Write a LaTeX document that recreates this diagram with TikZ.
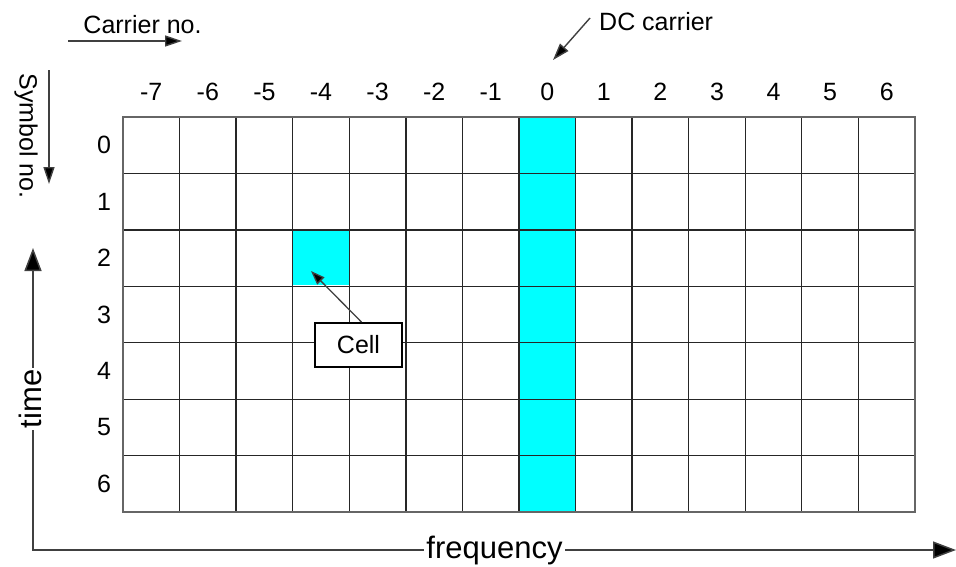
\documentclass[tikz,border=0pt]{standalone}
\usepackage{fontspec}
\setmainfont{Liberation Sans}
\usetikzlibrary{arrows.meta}
\definecolor{aqua}{RGB}{0,255,255}
\begin{document}
\begin{tikzpicture}[x=1pt,y=-1pt,
  lbl/.style={font=\fontsize{25}{30}\selectfont, inner sep=0pt},
  axislbl/.style={font=\fontsize{31}{36}\selectfont, fill=white, inner xsep=2pt, inner ysep=0pt},
  gridline/.style={draw=black!85, line width=1.3pt},
  border/.style={draw=black!60, line width=1.8pt},
  smallarr/.style={draw=black!75, line width=1.4pt, -{Triangle[length=17pt,width=11pt,fill=black]}},
  axisarr/.style={draw=black!75, line width=1.5pt, {Triangle[length=23pt,width=17pt,fill=black]}-{Triangle[length=23pt,width=17pt,fill=black]}},
  cellbox/.style={draw=black, line width=1.8pt, fill=white, minimum width=87pt, minimum height=44pt, inner sep=0pt, font=\fontsize{25}{30}\selectfont}
]
\useasboundingbox (0,0) rectangle (956,566);

% cyan fills
\fill[aqua] (520,117) rectangle (576,512);
\fill[aqua] (293,229) rectangle (349,285);

% grid
\foreach \i in {1,...,13} \draw[gridline] ({123+56.57*\i},117) -- ({123+56.57*\i},512);
\foreach \j in {1,...,6} \draw[gridline] (123,{117+56.43*\j}) -- (915,{117+56.43*\j});
\draw[border] (123,117) rectangle (915,512);

% column labels
\foreach \k [count=\i from 0] in {-7,-6,...,6}
  \node[lbl, anchor=base] (col\i) at ({123+56.57*(\i+0.5)},100) {\k};
% row labels
\foreach \j in {0,...,6}
  \node[lbl, anchor=base] (row\j) at (104,{117+56.43*(\j+0.5)+8.5}) {\j};

% carrier no.
\node[lbl, anchor=base] (carrier) at (142.5,33) {Carrier no.};
\coordinate (ca1) at (68,41);
\coordinate (ca2) at (182,41);
\draw[smallarr] (ca1) -- (ca2);

% symbol no.
\node[lbl, rotate=-90] (symbol) at (26,136) {Symbol no.};
\coordinate (sa1) at (49,70);
\coordinate (sa2) at (49,184);
\draw[smallarr] (sa1) -- (sa2);

% DC carrier
\node[lbl, anchor=base west] (dc) at (599,30) {DC carrier};
\coordinate (dca) at (590,18);
\coordinate (dcb) at (553,60);
\draw[smallarr] (dca) -- (dcb);

% cell
\node[cellbox] (cell) at (358.5,345) {Cell};
\coordinate (celltgt) at (311,271);
\draw[draw=black!75, line width=1.3pt, -{Triangle[length=14pt,width=10pt,fill=black]}] ([xshift=3pt]cell.north) -- (celltgt);

% axes
\coordinate (ttip) at (33,248);
\coordinate (orig) at (33,550);
\coordinate (ftip) at (956,550);
\draw[axisarr] (ttip) -- (orig) -- (ftip);
\node[axislbl, anchor=base] (freq) at (494.5,558) {frequency};
\node[axislbl, anchor=base, rotate=90] (time) at (41,399) {time};
\end{tikzpicture}
\end{document}
